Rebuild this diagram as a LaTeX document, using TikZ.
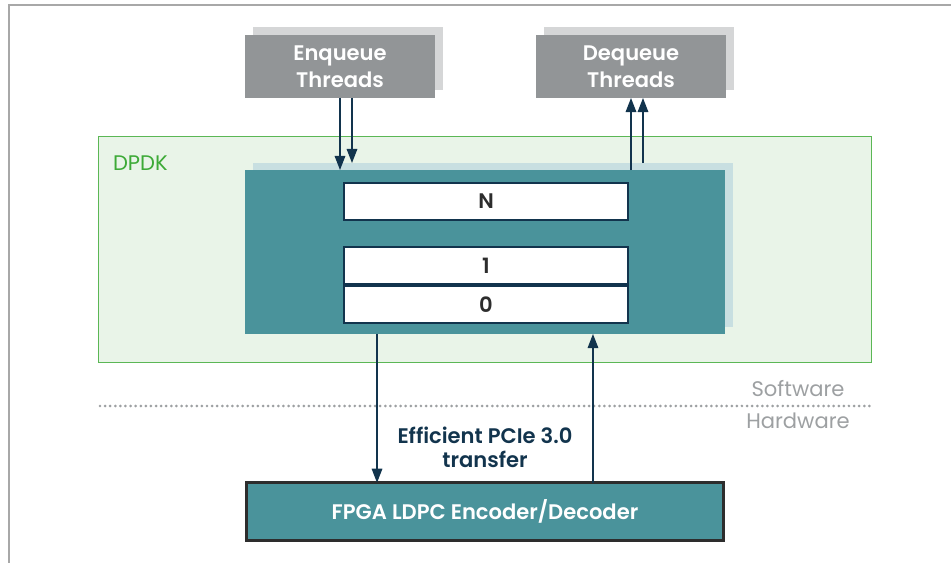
\documentclass[tikz,border=0pt]{standalone}
\usepackage{fontspec}
\setmainfont{Poppins}[BoldFont={Poppins SemiBold}]
\usetikzlibrary{arrows.meta,shadows}
\definecolor{threadgray}{HTML}{929597}
\definecolor{shadowgray}{HTML}{D5D6D7}
\definecolor{ringteal}{HTML}{4A939B}
\definecolor{ringshadow}{HTML}{C8DFE1}
\definecolor{dpdkfill}{HTML}{E9F4E8}
\definecolor{dpdkline}{HTML}{5BB755}
\definecolor{dpdktext}{HTML}{3DAA37}
\definecolor{navy}{HTML}{12344D}
\definecolor{darktext}{HTML}{2D2D2D}
\definecolor{labelgray}{HTML}{9DA0A2}
\definecolor{framegray}{HTML}{A8A8A8}

\begin{document}
\begin{tikzpicture}[x=.02cm, y=-.02cm]
\tikzstyle{every node}=[inner sep=0pt, outer sep=0pt, font=\fontsize{12}{14.5}\selectfont]
\tikzstyle{thread}=[rectangle, fill=threadgray, text=white, font=\fontsize{12}{15.5}\selectfont\bfseries, align=center, minimum width=3.8cm, minimum height=1.26cm, drop shadow={shadow xshift=.16cm, shadow yshift=.16cm, fill=shadowgray, opacity=1}]
\tikzstyle{slot}=[rectangle, draw=navy, line width=1.2pt, fill=white, text=darktext, font=\fontsize{12}{14.5}\selectfont\bfseries, minimum width=5.68cm, minimum height=.74cm]
\tikzstyle{flow}=[navy, line width=.8pt, -{Triangle[length=8pt, width=6pt]}]
\useasboundingbox (0,0) rectangle (951,563);
\draw[framegray, line width=.9pt] (951,5) -- (9,5) -- (9,563);
\node (dpdk) at (485,249.5) [draw=dpdkline, line width=.8pt, fill=dpdkfill, minimum width=15.46cm, minimum height=4.52cm] {};
\node (dpdklabel) at (113,163) [anchor=west, text=dpdktext] {DPDK};
\node (ring) at (485,252) [fill=ringteal, minimum width=9.6cm, minimum height=3.28cm, drop shadow={shadow xshift=.16cm, shadow yshift=.14cm, fill=ringshadow, opacity=1}] {};
\node (sN) at (486,201.5) [slot] {N};
\node (s1) at (486,265.5) [slot] {1};
\node (s0) at (486,304.5) [slot] {0};
\node (enq) at (340,66.5) [thread] {Enqueue\\Threads};
\node (deq) at (631,66.5) [thread] {Dequeue\\Threads};
\node (fpga) at (485,511.5) [draw=darktext, line width=1.9pt, fill=ringteal, text=white, font=\fontsize{12}{14.5}\selectfont\bfseries, minimum width=9.53cm, minimum height=1.15cm] {FPGA LDPC Encoder/Decoder};
\node (pcie) at (485,447) [text=navy, font=\fontsize{12}{13.5}\selectfont\bfseries, align=center] {Efficient PCIe 3.0\\transfer};
\node (sw) at (798,389) [text=labelgray] {Software};
\node (hw) at (798,421) [text=labelgray] {Hardware};
\draw[labelgray, line width=1.7pt, line cap=round, dash pattern=on 0pt off 2.9pt] (100,406) -- (873,406);
\draw[flow] (enq.south) -- (enq.south |- ring.north);
\draw[flow, shorten >=.14cm] ([xshift=.24cm]enq.south) -- ([xshift=.24cm]enq.south |- ring.north);
\draw[flow] (deq.south |- ring.north) -- (deq.south);
\draw[flow, shorten <=.14cm] ([xshift=.24cm]deq.south |- ring.north) -- ([xshift=.24cm]deq.south);
\draw[flow] ([xshift=-2.16cm]ring.south) -- ([xshift=-2.16cm]ring.south |- fpga.north);
\draw[flow] ([xshift=2.16cm]ring.south |- fpga.north) -- ([xshift=2.16cm]ring.south);
\end{tikzpicture}
\end{document}
